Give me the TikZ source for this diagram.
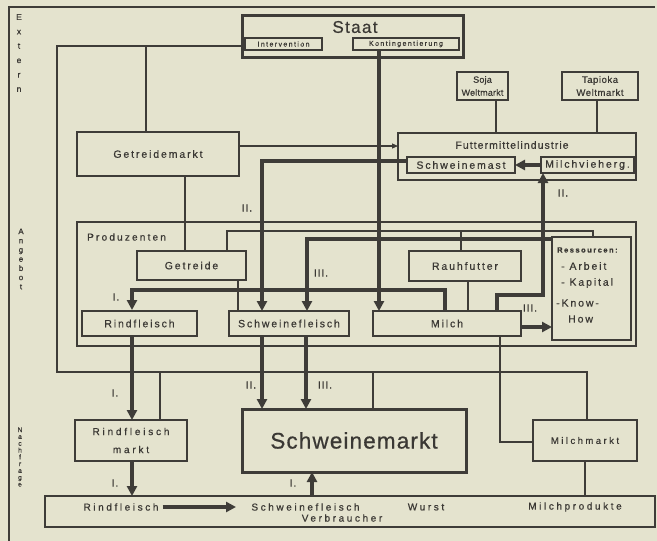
\documentclass[tikz,border=0pt]{standalone}
\usepackage{fontspec}
\setmainfont{Liberation Sans}[FakeBold=0.6]
\usetikzlibrary{arrows.meta,calc}
\definecolor{bg}{RGB}{228,227,206}
\definecolor{lc}{RGB}{62,60,56}
\definecolor{tc}{RGB}{58,56,52}
\begin{document}
\begin{tikzpicture}[x=1pt,y=-1pt,
  bx/.style={draw=lc,line width=1.1pt,fill=bg,inner sep=0pt,text=tc},
  thickbx/.style={draw=lc,line width=3pt,fill=bg,inner sep=0pt,text=tc},
  ln/.style={draw=lc,line width=1.1pt},
  tk/.style={draw=lc,line width=3.6pt,-{Triangle[length=10pt,width=10pt]}},
  thinarr/.style={draw=lc,line width=1.1pt,-{Triangle[length=6pt,width=5pt]}},
  lbl/.style={text=tc,inner sep=0pt,font=\fontsize{10.5}{12}\selectfont\addfontfeature{LetterSpace=18}},
  sml/.style={text=tc,inner sep=0pt,font=\fontsize{7}{8}\selectfont\addfontfeature{LetterSpace=20}},
  bot/.style={text=tc,inner sep=0pt,font=\fontsize{10}{12}\selectfont\addfontfeature{LetterSpace=26}},
  rom/.style={text=tc,inner sep=0pt,font=\fontsize{10.5}{12}\selectfont\addfontfeature{LetterSpace=8}},
  side/.style={text=tc,inner sep=0pt,align=center}
]
\useasboundingbox (0,0) rectangle (657,541);
\fill[bg] (0,0) rectangle (657,541);
\draw[ln] (9,541) -- (9,7) -- (655,7);

% side labels
\node[side,font=\fontsize{8.5}{14.4}\selectfont] (ext) at (19,53) {E\\x\\t\\e\\r\\n};
\node[side,font=\fontsize{8}{9.2}\selectfont] (ang) at (21,259) {A\\n\\g\\e\\b\\o\\t};
\node[side,font=\fontsize{6.8}{6.8}\selectfont] (nach) at (20,457) {N\\a\\c\\h\\f\\r\\a\\g\\e};

% large frames
\node[bx,minimum width=559pt,minimum height=124pt] (produzenten) at (356.5,284) {};
\node[lbl,anchor=west,font=\fontsize{10}{12}\selectfont\addfontfeature{LetterSpace=22}] (prodlbl) at (87,237) {Produzenten};
\node[bx,minimum width=238pt,minimum height=47pt] (futter) at (517,156.5) {};
\node[lbl,font=\fontsize{10.5}{12}\selectfont\addfontfeature{LetterSpace=10}] (futterlbl) at (512,145) {Futtermittelindustrie};
\node[thickbx,minimum width=221pt,minimum height=42pt] (staat) at (352.5,36) {};
\node[text=tc,inner sep=0pt,font=\fontsize{17}{19}\selectfont\addfontfeature{LetterSpace=8}] (staatlbl) at (355,27) {Staat};

% thin connectors
\draw[ln] (245,46) -| (57,372) -| (587,420);
\draw[ln] (146,46) -- (146,132);
\draw[ln] (160,372) -- (160,420);
\draw[ln] (373,372) -- (373,409);
\draw[ln] (500,336) |- (533,442);
\draw[ln] (585,461) -- (585,496);
\draw[ln] (185,176) -- (185,251);
\draw[ln] (238,280) -- (238,311);
\draw[ln] (227,251) -- (227,231) -- (593,231) -- (593,237);
\draw[ln] (461,251) -- (461,231);
\draw[ln] (468,281) -- (468,311);
\draw[ln] (496,100) -- (496,133);
\draw[ln] (597,100) -- (597,133);
\draw[thinarr] (239,146) -- (398,146);

% thick connectors
\draw[tk] (379,50) -- (379,311);
\draw[tk] (407,161) -| (262,311);
\draw[tk] (541,165) -- (515,165);
\draw[tk] (497,311) |- (543,295) -- (543,173);
\draw[tk] (552,239) -| (307,311);
\draw[tk] (445,311) |- (132,290) -- (132,310);
\draw[tk] (521,327) -- (552,327);
\draw[tk] (132,336) -- (132,420);
\draw[tk] (132,461) -- (132,496);
\draw[tk] (262,336) -- (262,409);
\draw[tk] (306,336) -- (306,409);
\draw[tk] (312,496) -- (312,472);

% boxes
\node[bx,minimum width=77pt,minimum height=12pt,sml] (interv) at (283.5,44) {Intervention};
\node[bx,minimum width=106pt,minimum height=12pt,sml] (konting) at (406,44) {Kontingentierung};
\node[bx,minimum width=51pt,minimum height=28pt,align=center,font=\fontsize{9}{13}\selectfont\addfontfeature{LetterSpace=2}] (soja) at (482.5,86) {Soja\\Weltmarkt};
\node[bx,minimum width=76pt,minimum height=28pt,align=center,font=\fontsize{9.5}{13}\selectfont\addfontfeature{LetterSpace=6}] (tapioka) at (600,86) {Tapioka\\Weltmarkt};
\node[bx,minimum width=162pt,minimum height=44pt,lbl] (getreidemarkt) at (158,154) {Getreidemarkt};
\node[bx,minimum width=108pt,minimum height=16pt,lbl] (schweinemast) at (461,165) {Schweinemast};
\node[bx,minimum width=93pt,minimum height=16pt,lbl] (milchvieh) at (587.5,165) {Milchvieherg.};
\node[bx,minimum width=109pt,minimum height=29pt,lbl] (getreide) at (191.5,265.5) {Getreide};
\node[bx,minimum width=112pt,minimum height=30pt,lbl] (rauhfutter) at (465,266) {Rauhfutter};
\node[bx,minimum width=79pt,minimum height=103pt] (ressourcen) at (591.5,288.5) {};
\node[anchor=west,text=tc,inner sep=0pt,font=\fontsize{7.5}{9}\bfseries\addfontfeature{LetterSpace=20}] (res1) at (557,250) {Ressourcen:};
\node[anchor=west,lbl] (res2) at (561,266) {- Arbeit};
\node[anchor=west,lbl] (res3) at (561,283) {- Kapital};
\node[anchor=west,lbl] (res4) at (556,303) {-Know-};
\node[anchor=west,lbl] (res5) at (568,319) {How};
\node[bx,minimum width=115pt,minimum height=25pt,lbl] (rindP) at (139.5,323.5) {Rindfleisch};
\node[bx,minimum width=120pt,minimum height=25pt,lbl] (schweinP) at (289,323.5) {Schweinefleisch};
\node[bx,minimum width=148pt,minimum height=25pt,lbl] (milch) at (447,323.5) {Milch};
\node[bx,minimum width=112pt,minimum height=41pt,align=center,font=\fontsize{10}{18}\selectfont\addfontfeature{LetterSpace=28}] (rindM) at (131,440.5) {Rindfleisch\\markt};
\node[thickbx,minimum width=224pt,minimum height=63pt,font=\fontsize{22.5}{26}\selectfont\addfontfeature{LetterSpace=5}] (schweinM) at (354,440.5) {Schweinemarkt};
\node[bx,minimum width=104pt,minimum height=41pt,font=\fontsize{9.5}{12}\selectfont\addfontfeature{LetterSpace=26}] (milchM) at (585,440.5) {Milchmarkt};
\node[bx,minimum width=610pt,minimum height=31pt] (verbr) at (350,511.5) {};
\node[bot] (vRind) at (121,507) {Rindfleisch};
\node[bot] (vSchwein) at (305.5,507) {Schweinefleisch};
\node[bot] (vVerb) at (342,518) {Verbraucher};
\node[bot] (vWurst) at (426,507) {Wurst};
\node[bot] (vMilch) at (575,507) {Milchprodukte};
\draw[tk] (vRind.east) ++(4,0) -- (236,507);

% roman labels
\node[rom] (r1) at (247,208) {II.};
\node[rom] (r2) at (563,193) {II.};
\node[rom] (r3) at (321,273) {III.};
\node[rom] (r4) at (530,308) {III.};
\node[rom] (r5) at (116,297) {I.};
\node[rom] (r6) at (115,393) {I.};
\node[rom] (r7) at (251,385) {II.};
\node[rom] (r8) at (325,385) {III.};
\node[rom] (r9) at (115,483) {I.};
\node[rom] (r10) at (293,483) {I.};
\end{tikzpicture}
\end{document}
